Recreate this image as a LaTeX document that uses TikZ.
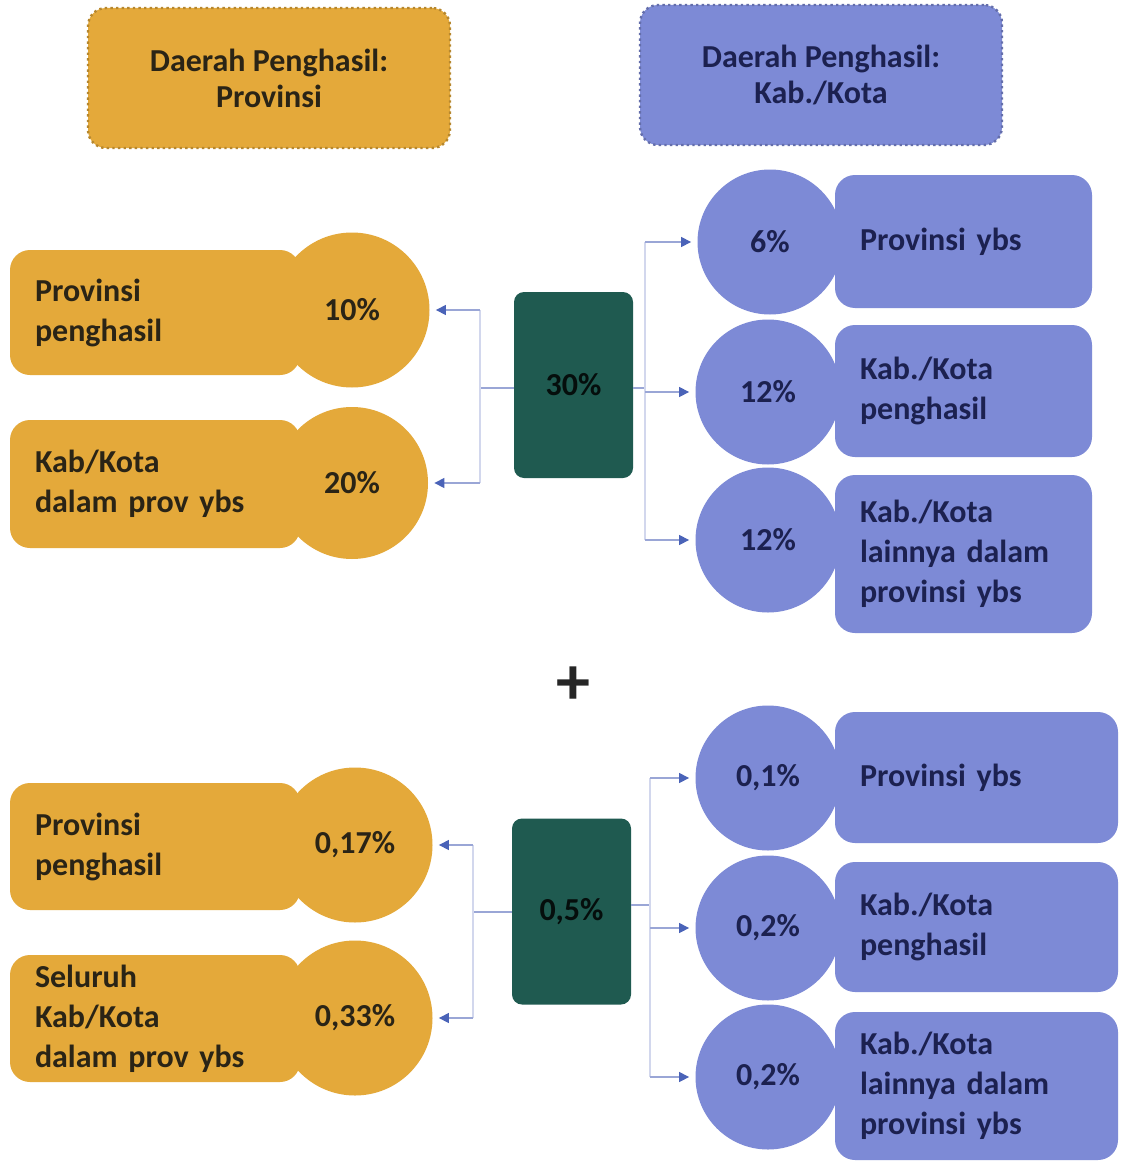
\documentclass[tikz,border=0pt]{standalone}
\usepackage{fontspec}
\setmainfont{Carlito}
\usetikzlibrary{arrows.meta,calc}
\definecolor{gold}{HTML}{E4A93A}
\definecolor{peri}{HTML}{7D8AD6}
\definecolor{teal}{HTML}{1F5A50}
\definecolor{ink}{HTML}{2A2416}
\definecolor{navy}{HTML}{1C2150}
\definecolor{conn}{HTML}{9AA6D6}
\definecolor{tip}{HTML}{4A63B8}
\tikzset{
  txt/.style={font=\fontsize{16}{20}\selectfont\bfseries},
  header/.style={txt, align=center, rounded corners=9pt, inner sep=0pt,
     minimum width=181pt, minimum height=70pt, line width=1.2pt,
     dash pattern=on 1.2pt off 1.6pt,
     font=\fontsize{16}{18}\selectfont\bfseries},
  obox/.style={txt, fill=gold, text=ink, rounded corners=10pt, inner xsep=12.5pt,
     text width=120pt, align=left, minimum width=145pt},
  ocirc/.style={txt, circle, fill=gold, text=ink, inner sep=0pt},
  bbox/.style={txt, fill=peri, text=navy, rounded corners=10pt, inner xsep=12.5pt, align=left},
  bcirc/.style={txt, circle, fill=peri, text=navy, inner sep=0pt, minimum size=72.5pt},
  gbox/.style={txt, fill=teal, text=black!85!teal, rounded corners=5pt,
     minimum width=59.5pt, minimum height=93pt, inner sep=0pt},
  line/.style={conn, line width=0.8pt},
  vline/.style={conn!45, line width=0.6pt},
  arr/.style={conn, line width=0.6pt, -{Triangle[length=5pt,width=5pt,color=tip]}, shorten >=3pt},
}
\begin{document}
\begin{tikzpicture}[x=0.5pt,y=-0.5pt]
\useasboundingbox (0,0) rectangle (1125,1172);
\fill[white] (0,0) rectangle (1125,1172);

% headers
\node[header, fill=gold, text=ink, draw=gold!80!black] (hL) at (269,78)
  {Daerah Penghasil:\\Provinsi};
\node[header, fill=peri, text=navy, draw=peri!80!black] (hR) at (821,75)
  {Daerah Penghasil:\\Kab./Kota};

% ---- upper section ----
\node[obox, minimum height=62.5pt] (o1) at (155,312.5) {Provinsi\\penghasil};
\node[ocirc, minimum size=77.5pt] (c1) at (352,310) {10\%};
\node[obox, minimum height=64pt] (o2) at (155,484) {Kab/Kota\\dalam prov ybs};
\node[ocirc, minimum size=76pt] (c2) at (352,483) {20\%};

\node[gbox] (g1) at (573.5,385) {30\%};

\node[bbox, minimum width=128.5pt, minimum height=66.5pt, text width=103.5pt] (r1) at (963.5,241.5) {Provinsi ybs};
\node[bcirc] (rc1) at (770,242) {6\%};
\node[bbox, minimum width=128.5pt, minimum height=66pt, text width=103.5pt] (r2) at (963.5,391) {Kab./Kota\\penghasil};
\node[bcirc] (rc2) at (768,392) {12\%};
\node[bbox, minimum width=128.5pt, minimum height=79pt, text width=103.5pt] (r3) at (963.5,554) {Kab./Kota\\lainnya dalam\\provinsi ybs};
\node[bcirc] (rc3) at (768,540) {12\%};

\coordinate (jL1) at (480,388);
\coordinate (jR1) at (645,388);
\draw[line] (g1.west |- jL1) -- (jL1);
\draw[vline] (jL1 |- c1) -- (jL1 |- c2);
\draw[arr] (jL1 |- c1) -- (c1);
\draw[arr] (jL1 |- c2) -- (c2);
\draw[line] (g1.east |- jR1) -- (jR1);
\draw[vline] (jR1 |- rc1) -- (jR1 |- rc3);
\draw[arr] (jR1 |- rc1) -- (rc1);
\draw[arr] (jR1 |- rc2) -- (rc2);
\draw[arr] (jR1 |- rc3) -- (rc3);

% plus
\node[font=\fontsize{34}{34}\selectfont\bfseries, text=black!85] (plus) at (573,686) {+};

% ---- lower section ----
\node[obox, minimum height=63.5pt] (o3) at (155,846.5) {Provinsi\\penghasil};
\node[ocirc, minimum size=77.5pt] (c3) at (355,845) {0,17\%};
\node[obox, minimum height=63.5pt] (o4) at (155,1018.5) {Seluruh\\Kab/Kota\\dalam prov ybs};
\node[ocirc, minimum size=77.5pt] (c4) at (355,1018) {0,33\%};

\node[gbox] (g2) at (571.5,911.5) {0,5\%};

\node[bbox, minimum width=141.5pt, minimum height=65.5pt, text width=116.5pt] (s1) at (976.5,777.5) {Provinsi ybs};
\node[bcirc] (sc1) at (768,778) {0,1\%};
\node[bbox, minimum width=141.5pt, minimum height=65pt, text width=116.5pt] (s2) at (976.5,927) {Kab./Kota\\penghasil};
\node[bcirc] (sc2) at (768,928) {0,2\%};
\node[bbox, minimum width=141.5pt, minimum height=74pt, text width=116.5pt] (s3) at (976.5,1086) {Kab./Kota\\lainnya dalam\\provinsi ybs};
\node[bcirc] (sc3) at (768,1077) {0,2\%};

\coordinate (jL2) at (473,912);
\coordinate (jR2) at (650,905);
\draw[line] (g2.west |- jL2) -- (jL2);
\draw[vline] (jL2 |- c3) -- (jL2 |- c4);
\draw[arr] (jL2 |- c3) -- (c3);
\draw[arr] (jL2 |- c4) -- (c4);
\draw[line] (g2.east |- jR2) -- (jR2);
\draw[vline] (jR2 |- sc1) -- (jR2 |- sc3);
\draw[arr] (jR2 |- sc1) -- (sc1);
\draw[arr] (jR2 |- sc2) -- (sc2);
\draw[arr] (jR2 |- sc3) -- (sc3);
\end{tikzpicture}
\end{document}
